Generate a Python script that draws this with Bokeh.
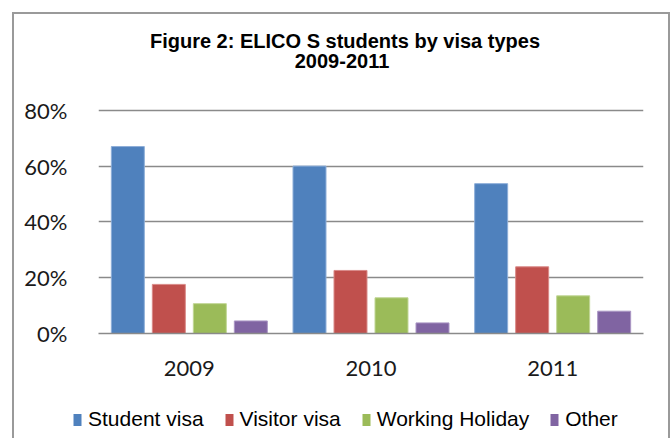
from bokeh.plotting import figure
from bokeh.layouts import column
from bokeh.models import FactorRange, Range1d, FixedTicker, PrintfTickFormatter, Label, Legend, LegendItem
from bokeh.transform import dodge
from bokeh.embed import file_html
from bokeh.resources import INLINE

years = ["2009", "2010", "2011"]
series = ["Student visa", "Visitor visa", "Working Holiday", "Other"]
student = [67.0, 60.0, 53.7]
visitor = [17.6, 22.6, 23.9]
working = [10.7, 12.8, 13.5]
other = [4.5, 3.8, 8.0]
colors = ["#4F81BD", "#C0504D", "#9BBB59", "#8064A2"]
edges = ["#8DAED8", "#D98A88", "#C0D695", "#AA96C4"]
y_ticks = [0, 20, 40, 60, 80]
title_lines = ["Figure 2: ELICO S students by visa types", "2009-2011"]

data = dict(year=years, s0=student, s1=visitor, s2=working, s3=other)
keys = ["s0", "s1", "s2", "s3"]
W = 654
step = 0.2257


def blank(h, x_range=None, y_range=None):
    f = figure(width=W, height=h, x_range=x_range or Range1d(0, 1), y_range=y_range or Range1d(0, 1),
               output_backend="svg", toolbar_location=None, min_border=0)
    f.frame_align = False
    f.axis.visible = False
    f.grid.visible = False
    f.outline_line_color = None
    f.background_fill_color = "white"
    f.border_fill_color = "white"
    return f


# ---- title strip ----
tf = blank(70)
tf.add_layout(Label(x=330.5, y=43.7, x_units="screen", y_units="screen",
                    text=title_lines[0], text_align="center", text_baseline="alphabetic",
                    text_font="Liberation Sans", text_font_style="bold",
                    text_font_size="20px", text_color="black"))
tf.add_layout(Label(x=327.5, y=24, x_units="screen", y_units="screen",
                    text=title_lines[1], text_align="center", text_baseline="alphabetic",
                    text_font="Liberation Sans", text_font_style="bold",
                    text_font_size="20px", text_color="black"))

# ---- main chart ----
p = figure(x_range=FactorRange(*years), y_range=Range1d(0, 81),
           width=W, height=300, output_backend="svg", toolbar_location=None,
           min_border_left=84, min_border_right=25, min_border_top=23, min_border_bottom=51)
p.frame_align = False
p.outline_line_color = None
p.background_fill_color = "white"
p.border_fill_color = "white"

for i, key in enumerate(keys):
    p.vbar(x=dodge("year", (i - 1.5) * step, range=p.x_range), top=key, width=0.1816,
           source=data, fill_color=colors[i], line_color=edges[i], line_width=1)

p.xgrid.visible = False
p.ygrid.ticker = FixedTicker(ticks=y_ticks)
p.ygrid.grid_line_color = "#8a8a8a"
p.ygrid.grid_line_width = 1.5

p.yaxis.ticker = FixedTicker(ticks=y_ticks)
p.yaxis.formatter = PrintfTickFormatter(format="%d%%")
p.yaxis.axis_line_color = None
p.yaxis.major_tick_line_color = None
p.yaxis.minor_tick_line_color = None
p.yaxis.major_label_standoff = 25
p.yaxis.major_label_text_font = "Lato"
p.yaxis.major_label_text_font_size = "22px"
p.yaxis.major_label_text_color = "#1a1a1a"

p.xaxis.axis_line_color = "#8a8a8a"
p.xaxis.axis_line_width = 1.5
p.xaxis.major_tick_line_color = None
p.xaxis.minor_tick_line_color = None
p.xaxis.major_label_standoff = 21
p.xaxis.major_label_text_font = "Lato"
p.xaxis.major_label_text_font_size = "22px"
p.xaxis.major_label_text_color = "#1a1a1a"

# ---- legend strip (zero-width bars outside its visible y range; only the legend shows) ----
lf = blank(54, x_range=FactorRange(*years), y_range=Range1d(-2, -1))
items = []
for i, (s, key) in enumerate(zip(series, keys)):
    r = lf.vbar(x=dodge("year", (i - 1.5) * step, range=lf.x_range), top=key, width=0,
                source=data, fill_color=colors[i], line_color=None)
    items.append(LegendItem(label=s, renderers=[r]))
legend = Legend(items=items, orientation="horizontal", location=(58, 7))
legend.background_fill_alpha = 0
legend.border_line_color = None
legend.padding = 0
legend.margin = 0
legend.spacing = 20
legend.label_standoff = 6
legend.glyph_width = 10
legend.glyph_height = 15
legend.label_text_font = "Liberation Sans"
legend.label_text_font_size = "21px"
legend.label_text_color = "black"
lf.add_layout(legend)

layout = column(tf, p, lf, spacing=0)
layout.styles = {"margin-left": "12px", "margin-top": "12px",
                 "border-left": "2px solid #9a9a9a", "border-top": "2px solid #9a9a9a",
                 "border-right": "2px solid #9a9a9a"}

open("out.html", "w").write(file_html(layout, INLINE))
